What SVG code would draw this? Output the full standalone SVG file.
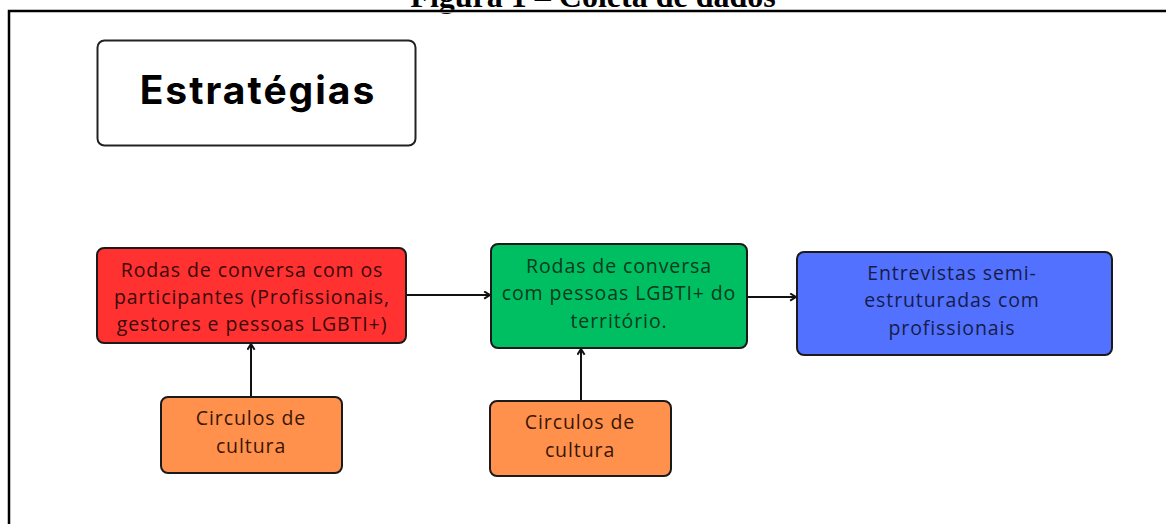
<svg xmlns="http://www.w3.org/2000/svg" width="1166" height="524" viewBox="0 0 1166 524">
<style>
.frame{stroke:#000;stroke-width:2.5;fill:none}
.box{stroke:#1a1a1a;stroke-width:2}
.t{font-family:"Open Sans","Liberation Sans",sans-serif;font-size:19.5px;text-anchor:middle;letter-spacing:0.9px}
.conn{stroke:#111;stroke-width:2;fill:none;marker-end:url(#ah)}
</style>
<defs>
<marker id="ah" viewBox="0 0 10 10" refX="9" refY="5" markerWidth="9" markerHeight="9" orient="auto" markerUnits="userSpaceOnUse">
<path d="M2.5,1 L9,5 L2.5,9" fill="none" stroke="#111" stroke-width="2.2"/>
</marker>
</defs>
<rect width="1166" height="524" fill="#fff"/>
<text x="593" y="7" font-family="Liberation Serif,serif" font-weight="bold" font-size="32" text-anchor="middle">Figura 1 – Coleta de dados</text>
<rect x="0" y="9.8" width="1166" height="3" fill="#fff"/>
<path class="frame" d="M9,524 V11 H1166"/>
<g id="estrategias">
<rect x="97.5" y="40.5" width="318" height="105" rx="7" fill="#fff" stroke="#222" stroke-width="2"/>
<text x="258" y="104" font-family="Inter,'Liberation Sans',sans-serif" font-weight="bold" font-size="39" text-anchor="middle" letter-spacing="2">Estratégias</text>
</g>
<g id="conectores">
<line class="conn" x1="407" y1="295" x2="490" y2="295"/>
<line class="conn" x1="748" y1="297" x2="796" y2="297"/>
<line class="conn" x1="251" y1="397" x2="251" y2="344"/>
<line class="conn" x1="581" y1="401" x2="581" y2="349"/>
</g>
<g id="rodas1">
<rect class="box" x="97" y="248" width="309" height="95" rx="7" fill="#ff3131"/>
<text class="t" fill="#3a0a0a"><tspan x="252" y="277">Rodas de conversa com os</tspan><tspan x="252" y="304">participantes (Profissionais,</tspan><tspan x="252" y="331">gestores e pessoas LGBTI+)</tspan></text>
</g>
<g id="rodas2">
<rect class="box" x="491" y="244" width="256" height="104" rx="7" fill="#00bf63"/>
<text class="t" fill="#0a3a1c"><tspan x="619" y="273">Rodas de conversa</tspan><tspan x="619" y="300">com pessoas LGBTI+ do</tspan><tspan x="619" y="328">território.</tspan></text>
</g>
<g id="entrevistas">
<rect class="box" x="797" y="252" width="315" height="103" rx="7" fill="#5271ff"/>
<text class="t" fill="#161c4a"><tspan x="952" y="280">Entrevistas semi-</tspan><tspan x="952" y="307">estruturadas com</tspan><tspan x="952" y="335">profissionais</tspan></text>
</g>
<g id="circulos1">
<rect class="box" x="161" y="397" width="181" height="76" rx="7" fill="#ff914d"/>
<text class="t" fill="#3a1605"><tspan x="251" y="425">Circulos de</tspan><tspan x="251" y="453">cultura</tspan></text>
</g>
<g id="circulos2">
<rect class="box" x="490" y="401" width="181" height="75" rx="7" fill="#ff914d"/>
<text class="t" fill="#3a1605"><tspan x="580" y="429">Circulos de</tspan><tspan x="580" y="457">cultura</tspan></text>
</g>
</svg>
